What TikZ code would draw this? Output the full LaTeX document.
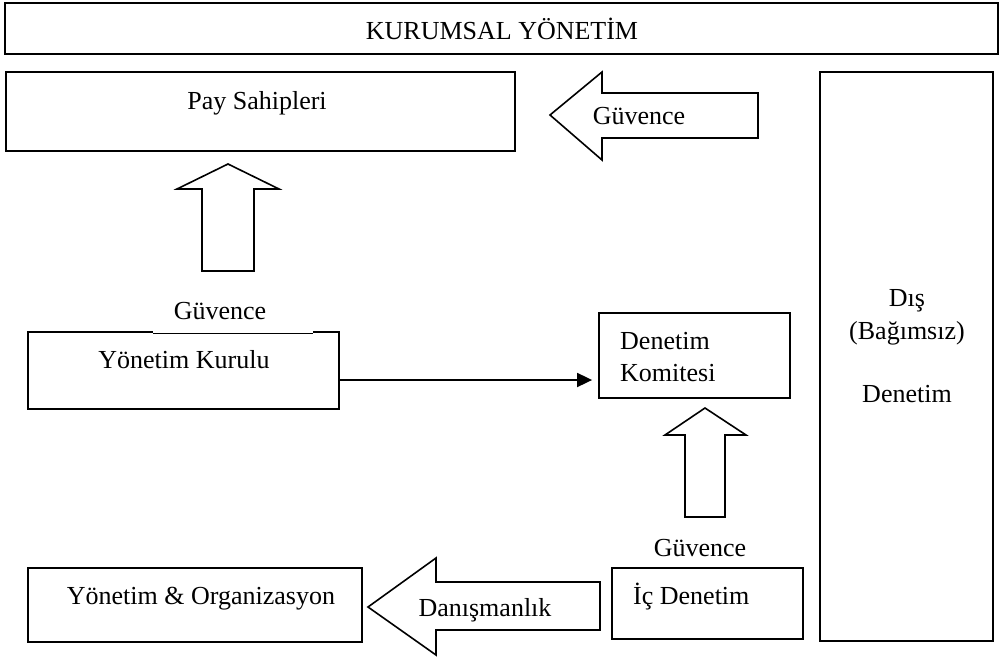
\documentclass[tikz,border=0pt]{standalone}
\usepackage{fontspec}
\setmainfont{Liberation Serif}
\usetikzlibrary{arrows.meta}
\begin{document}
\begin{tikzpicture}[x=1pt,y=-1pt,
  box/.style={draw, rectangle, inner sep=0pt, line width=1.8pt},
  txt/.style={font=\fontsize{26}{30}\selectfont, inner sep=0pt, anchor=base},
  ltxt/.style={txt, anchor=base west},
  blk/.style={draw, line width=1.6pt, line join=miter, fill=white},
  conn/.style={line width=1.8pt, -{Triangle[length=15pt,width=14pt]}, shorten >=6pt}]
\useasboundingbox (0,0) rectangle (1001,656);
% boxes
\node[box, minimum width=993pt, minimum height=51pt] (top) at (501.5,28.5) {};
\node[box, minimum width=509pt, minimum height=79pt] (pay) at (260.5,111.5) {};
\node[box, minimum width=173pt, minimum height=569pt] (dis) at (906.5,356.5) {};
\node[box, minimum width=311pt, minimum height=77pt] (yk) at (183.5,370.5) {};
\node[box, minimum width=191pt, minimum height=85pt] (dk) at (694.5,355.5) {};
\node[box, minimum width=191pt, minimum height=71pt] (ic) at (707.5,603.5) {};
\node[box, minimum width=334pt, minimum height=74pt] (yo) at (195,605) {};
% thin part of Yonetim Kurulu top edge
\draw[white, line width=2.6pt] (153,332) -- (313,332);
\draw[line width=0.9pt] (153,333) -- (313,333);
% block arrows
\draw[blk] (550,115) -- (602,72) -- (602,93) -- (758,93) -- (758,138) -- (602,138) -- (602,160) -- cycle;
\draw[blk] (228,164) -- (279,189) -- (254,189) -- (254,271) -- (202,271) -- (202,189) -- (177,189) -- cycle;
\draw[blk] (705,408) -- (746,435) -- (725,435) -- (725,517) -- (685,517) -- (685,435) -- (665,435) -- cycle;
\draw[blk] (368,607) -- (436,558) -- (436,582) -- (600,582) -- (600,630) -- (436,630) -- (436,655) -- cycle;
% connector
\draw[conn] ([yshift=-9.5pt]yk.east) -- ([yshift=-24.5pt]dk.west);
% texts
\node[txt] (tTop) at (502,39) {KURUMSAL YÖNETİM};
\node[txt] (tPay) at (257,109) {Pay Sahipleri};
\node[txt] (tG1) at (639,124) {Güvence};
\node[txt] (tD1) at (907,306) {Dış};
\node[txt] (tD2) at (907,339) {(Bağımsız)};
\node[txt] (tD3) at (907,402) {Denetim};
\node[txt] (tG2) at (220,319) {Güvence};
\node[txt] (tYK) at (184,368) {Yönetim Kurulu};
\node[ltxt] (tDK1) at (620,349) {Denetim};
\node[ltxt] (tDK2) at (620,381) {Komitesi};
\node[txt] (tG3) at (700,556) {Güvence};
\node[ltxt] (tIc) at (633,604) {İç Denetim};
\node[txt] (tYO) at (201,604) {Yönetim \& Organizasyon};
\node[txt] (tDan) at (485,616) {Danışmanlık};
\end{tikzpicture}
\end{document}
